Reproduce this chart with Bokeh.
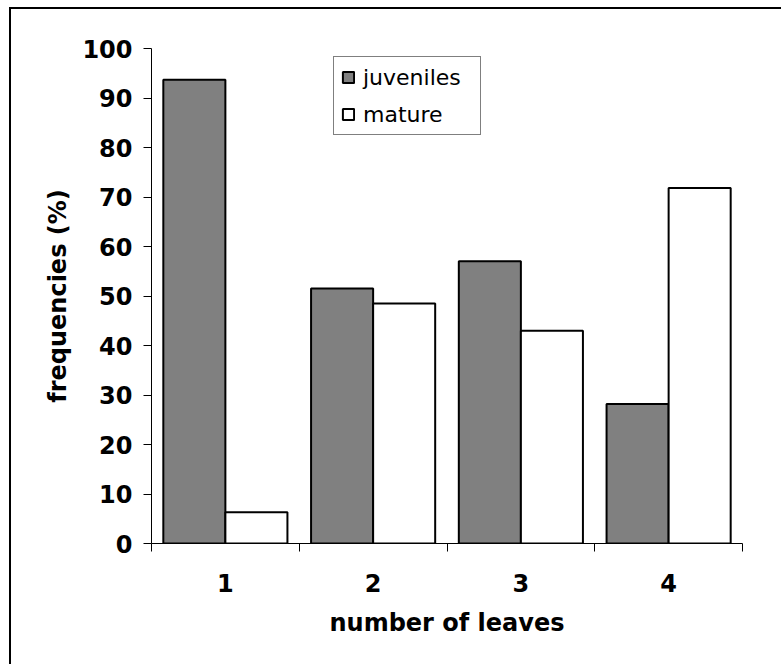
from bokeh.plotting import figure
from bokeh.models import FixedTicker, ColumnDataSource, Range1d
from bokeh.embed import file_html
from bokeh.resources import INLINE

categories = ["1", "2", "3", "4"]
juveniles = [93.7, 51.5, 57.0, 28.2]
mature = [6.3, 48.5, 43.0, 71.8]
y_ticks = [0, 10, 20, 30, 40, 50, 60, 70, 80, 90, 100]

n = len(categories)
pos = [i + 1 for i in range(n)]
bar_w = 0.42

W, H = 790, 672
p = figure(width=W, height=H, output_backend="svg", toolbar_location=None,
           x_range=Range1d(0.5, n + 0.5), y_range=Range1d(0, 100),
           min_border_left=140, min_border_right=59, min_border_top=39,
           min_border_bottom=138, background_fill_color="white",
           border_fill_color="white", margin=(9, 0, 0, 11))
# chart-area frame: only its left and top edges fall inside the picture
p.styles = {"box-shadow": "-2px -2px 0px 0px black"}
p.outline_line_color = None
p.xgrid.grid_line_color = None
p.ygrid.grid_line_color = None

src = ColumnDataSource(dict(
    xj=[x - bar_w / 2 for x in pos],
    xm=[x + bar_w / 2 for x in pos],
    juv=juveniles, mat=mature))

p.vbar(x="xj", top="juv", bottom=0, width=bar_w, source=src,
       fill_color="#808080", line_color="black", line_width=2,
       legend_label="juveniles")
p.vbar(x="xm", top="mat", bottom=0, width=bar_w, source=src,
       fill_color="white", line_color="black", line_width=2,
       legend_label="mature")

font = "DejaVu Sans"

xa = p.xaxis[0]
xa.ticker = FixedTicker(ticks=pos, minor_ticks=[x - 0.5 for x in pos] + [pos[-1] + 0.5])
xa.major_label_overrides = {x: c for x, c in zip(pos, categories)}
xa.major_tick_out = 0
xa.major_tick_in = 0
xa.minor_tick_out = 8
xa.minor_tick_in = 0
xa.minor_tick_line_color = "black"
xa.axis_line_color = "black"
xa.major_label_standoff = 22
xa.major_label_text_font = font
xa.major_label_text_font_size = "24px"
xa.major_label_text_font_style = "bold"
xa.major_label_text_color = "black"
xa.axis_label = "number of leaves"
xa.axis_label_text_font = font
xa.axis_label_text_font_size = "24px"
xa.axis_label_text_font_style = "bold"
xa.axis_label_text_color = "black"
xa.axis_label_standoff = 14

ya = p.yaxis[0]
ya.ticker = FixedTicker(ticks=y_ticks, minor_ticks=[])
ya.major_tick_out = 8
ya.major_tick_in = 0
ya.minor_tick_out = 0
ya.minor_tick_in = 0
ya.major_tick_line_color = "black"
ya.axis_line_color = "black"
ya.major_label_standoff = 11
ya.major_label_text_font = font
ya.major_label_text_font_size = "24px"
ya.major_label_text_font_style = "bold"
ya.major_label_text_color = "black"
ya.axis_label = "frequencies (%)"
ya.axis_label_text_font = font
ya.axis_label_text_font_size = "24px"
ya.axis_label_text_font_style = "bold"
ya.axis_label_text_color = "black"
ya.axis_label_standoff = 7

lg = p.legend[0]
lg.location = (182, 408)
lg.border_line_color = "black"
lg.border_line_width = 1
lg.background_fill_color = "white"
lg.background_fill_alpha = 1
lg.label_text_font = font
lg.label_text_font_size = "22px"
lg.label_text_color = "black"
lg.glyph_width = 14
lg.glyph_height = 14
lg.label_height = 26
lg.label_width = 110
lg.label_standoff = 8
lg.spacing = 11
lg.padding = 7
lg.margin = 0

open("out.html", "w").write(file_html(p, INLINE))
